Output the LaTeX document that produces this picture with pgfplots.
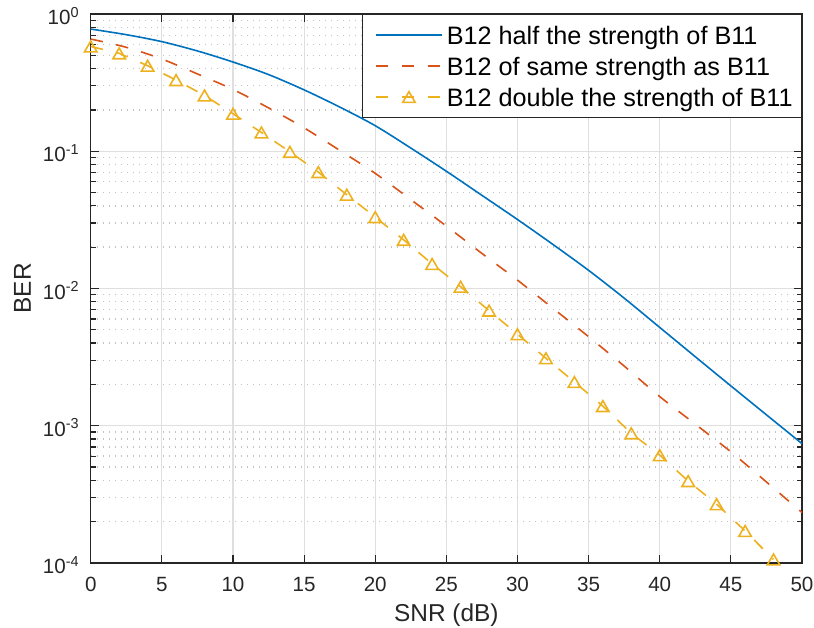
\documentclass[border=0pt]{standalone}
\usepackage{fontspec}
\setmainfont{Liberation Sans}
\usepackage{pgfplots}
\pgfplotsset{compat=1.18}
\definecolor{mblue}{RGB}{0,114,189}
\definecolor{mred}{RGB}{217,83,25}
\definecolor{myellow}{RGB}{237,177,32}
\definecolor{maxis}{RGB}{38,38,38}
\definecolor{mgrid}{RGB}{223,223,223}
\definecolor{mminor}{RGB}{195,195,195}
\begin{document}
\begin{tikzpicture}
\begin{axis}[
  scale only axis, width=355.5pt, height=274.35pt,
  xmin=0, xmax=50, ymin=1e-4, ymax=1, ymode=log,
  xtick={0,5,10,15,20,25,30,35,40,45,50},
  minor xtick={},
  ytick={1e-4,1e-3,1e-2,1e-1,1},
  yticklabels={10\textsuperscript{-4},10\textsuperscript{-3},10\textsuperscript{-2},10\textsuperscript{-1},10\textsuperscript{0}},
  minor ytick={2e-4,3e-4,4e-4,5e-4,6e-4,7e-4,8e-4,9e-4,2e-3,3e-3,4e-3,5e-3,6e-3,7e-3,8e-3,9e-3,2e-2,3e-2,4e-2,5e-2,6e-2,7e-2,8e-2,9e-2,2e-1,3e-1,4e-1,5e-1,6e-1,7e-1,8e-1,9e-1},
  /pgf/number format/assume math mode=true,
  xmajorgrids, ymajorgrids, yminorgrids,
  major grid style={mgrid, line width=0.6pt},
  minor grid style={mminor, line width=0.7pt, dash pattern=on 0.7pt off 2.3pt},
  axis line style={maxis, line width=0.7pt},
  tick style={maxis, line width=0.6pt},
  tick align=inside,
  major tick length=4pt, minor tick length=2.5pt,
  tick label style={font=\fontsize{10.3}{12}\selectfont, text=maxis},
  xticklabel style={anchor=base, yshift=-14.15pt},
  yticklabel style={anchor=east, inner xsep=0pt, xshift=-5.35pt, yshift=-1pt},
  xlabel={SNR (dB)},
  ylabel={BER},
  every axis x label/.style={at={(axis description cs:0.5,-0.1075)}, anchor=base, font=\fontsize{12.2}{14}\selectfont, text=maxis},
  every axis y label/.style={at={(axis description cs:-0.0959,0.5)}, rotate=90, anchor=center, font=\fontsize{12.2}{14}\selectfont, text=maxis},
  legend style={at={(rel axis cs:1,1)}, anchor=north east, draw=maxis, line width=0.7pt, fill=white,
    inner xsep=2.45pt, inner ysep=2.4pt, row sep=0pt, column sep=0pt,
    font=\fontsize{12.6}{15}\selectfont, text=black,
    nodes={inner xsep=1.9pt, inner ysep=1.5pt, text height=11.2pt, text depth=1.3pt}},
  legend cell align=left,
  legend image code/.code={\path (0pt,0pt); \draw[mark repeat=2, mark phase=2, #1] plot coordinates {(3.85pt,0pt) (20.5pt,0pt) (37.15pt,0pt)};},
]
\addplot[mblue, line width=0.8pt, smooth] coordinates {
(0,0.777) (2.5,0.707) (5,0.629) (7.5,0.538) (10,0.447) (12.5,0.362) (15,0.280) (17.5,0.210) (20,0.1535) (22.5,0.1055) (25,0.0715) (27.5,0.0477) (30,0.0318) (32.5,0.0209) (35,0.01355) (37.5,0.0085) (40,0.0052) (42.5,0.00318) (45,0.00195) (47.5,0.00120) (50,0.00074)
};
\addlegendentry{B12 half the strength of B11}
\addplot[mred, line width=0.8pt, smooth, dash pattern=on 6.2pt off 6.8pt] coordinates {
(0,0.657) (2.5,0.572) (5,0.470) (7.5,0.366) (10,0.282) (12.5,0.207) (15,0.148) (17.5,0.1015) (20,0.069) (22.5,0.0444) (25,0.0285) (27.5,0.018) (30,0.0115) (32.5,0.00716) (35,0.00445) (37.5,0.00272) (40,0.00163) (42.5,0.001026) (45,0.000645) (47.5,0.000389) (50,0.000233)
};
\addlegendentry{B12 of same strength as B11}
\addplot[myellow, line width=0.8pt, dash pattern=on 6.2pt off 6.8pt, mark=triangle, mark size=3.6pt, mark options={solid, line width=0.8pt, yshift=-0.9pt}] coordinates {
(0,0.580) (2,0.517) (4,0.420) (6,0.330) (8,0.255) (10,0.1876) (12,0.137) (14,0.099) (16,0.0705) (18,0.0482) (20,0.0331) (22,0.0226) (24,0.0151) (26,0.0103) (28,0.0069) (30,0.00464) (32,0.0031) (34,0.00208) (36,0.00139) (38,0.00088) (40,0.00061) (42,0.000395) (44,0.000268) (46,0.000171) (48,0.000106)
};
\addlegendentry{B12 double the strength of B11}
\end{axis}
\pgfresetboundingbox
\path[use as bounding box] (-45.35pt,-32.15pt) rectangle (361.5pt,281.35pt);
\end{tikzpicture}
\end{document}
